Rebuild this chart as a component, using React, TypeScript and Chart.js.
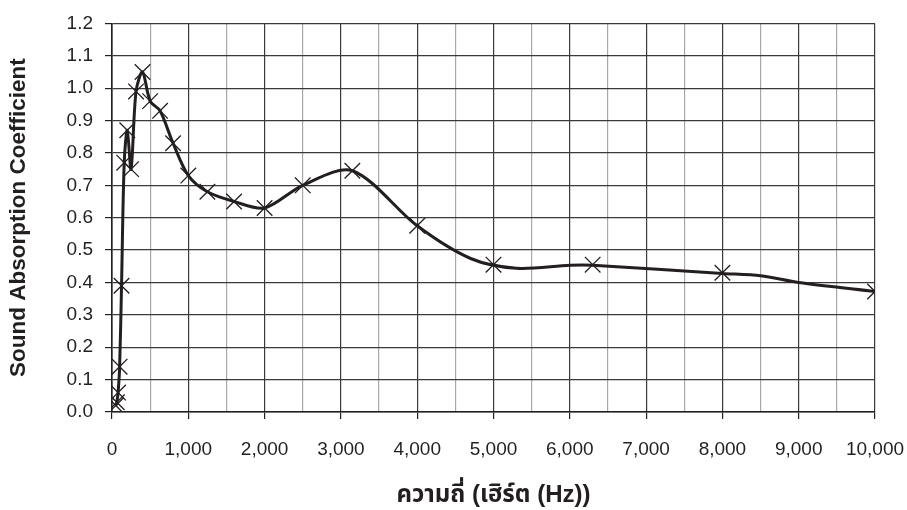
import React, { useEffect, useRef } from 'react';
import { Chart, registerables } from 'chart.js';

Chart.register(...registerables);

// Measured frequencies (Hz) with their X markers
const markerFreqs = [50, 63, 80, 100, 125, 160, 200, 250, 315, 400, 500, 630, 800, 1000, 1250, 1600, 2000, 2500, 3150, 4000, 5000, 6300, 8000, 10000];
const markerValues = [0.02, 0.03, 0.06, 0.14, 0.39, 0.77, 0.87, 0.75, 0.99, 1.05, 0.96, 0.93, 0.83, 0.73, 0.68, 0.65, 0.63, 0.70, 0.745, 0.575, 0.455, 0.455, 0.43, 0.372];

// Smoothed curve drawn through the measurements
const curveFreqs = [50, 63, 80, 100, 125, 160, 200, 250, 315, 400, 500, 630, 800, 1000, 1250, 1600, 2000, 2500, 3150, 4000, 4700, 5300, 6000, 6300, 8000, 8500, 9000, 10000];
const curveValues = [0.02, 0.03, 0.06, 0.14, 0.39, 0.77, 0.87, 0.75, 0.99, 1.05, 0.96, 0.93, 0.83, 0.73, 0.68, 0.65, 0.63, 0.70, 0.745, 0.575, 0.474, 0.444, 0.453, 0.453, 0.428, 0.421, 0.40, 0.372];

const yAxisTitle = 'Sound Absorption Coefficient';
const xAxisTitle = 'ความถี่ (เฮิร์ต (Hz))';

const INK = '#231f20';
const FONT = "'Liberation Sans', Arial, Helvetica, sans-serif";

export default function App() {
  const canvasRef = useRef<HTMLCanvasElement | null>(null);

  useEffect(() => {
    const canvas = canvasRef.current;
    if (!canvas) return;
    const chart = new Chart(canvas, {
      type: 'scatter',
      data: {
        datasets: [
          {
            label: 'curve',
            data: curveFreqs.map((f, i) => ({ x: f, y: curveValues[i] })),
            showLine: true,
            borderColor: INK,
            borderWidth: 3,
            pointRadius: 0,
            pointHoverRadius: 0,
            tension: 0.3,
            order: 2,
          },
          {
            label: 'measured',
            data: markerFreqs.map((f, i) => ({ x: f, y: markerValues[i] })),
            showLine: false,
            pointStyle: 'crossRot',
            pointRadius: 11,
            pointBorderColor: INK,
            pointBorderWidth: 1.3,
            pointBackgroundColor: INK,
            order: 1,
          },
        ],
      },
      options: {
        responsive: false,
        animation: false,
        devicePixelRatio: 1,
        layout: { padding: { top: 12, right: 32, left: 0, bottom: 0 } },
        plugins: { legend: { display: false }, tooltip: { enabled: false } },
        scales: {
          x: {
            type: 'linear',
            min: 0,
            max: 10000,
            afterFit: (scale: any) => {
              scale.height = 98;
              scale.paddingLeft = 0;
              scale.paddingRight = 0;
            },
            ticks: {
              stepSize: 500,
              autoSkip: false,
              maxRotation: 0,
              padding: 19,
              color: INK,
              font: { family: FONT, size: 19 },
              callback: (v: any) => (Number(v) % 1000 === 0 ? Number(v).toLocaleString('en-US') : ''),
            },
            grid: {
              color: (ctx: any) => (ctx.tick && ctx.tick.value % 1000 === 0 ? '#3a3a3a' : '#a8a8a8'),
              tickColor: (ctx: any) => (ctx.tick && ctx.tick.value % 1000 === 0 ? INK : 'rgba(0,0,0,0)'),
              lineWidth: 1.2,
              tickLength: 7,
            },
            border: { color: INK, width: 1.6 },
            title: {
              display: true,
              text: xAxisTitle,
              color: INK,
              font: { family: "'Liberation Sans', 'Noto Sans Thai', 'DejaVu Sans', sans-serif", size: 24, weight: 'bold' },
              padding: { top: 0, bottom: 0 },
            },
          },
          y: {
            min: 0,
            max: 1.2,
            afterFit: (scale: any) => { scale.width = 112; },
            ticks: {
              stepSize: 0.1,
              padding: 12,
              color: INK,
              font: { family: FONT, size: 19 },
              callback: (v: any) => Number(v).toFixed(1),
            },
            grid: {
              color: '#3a3a3a',
              tickColor: INK,
              lineWidth: 1.2,
              tickLength: 7,
            },
            border: { color: INK, width: 1.6 },
            title: {
              display: true,
              text: yAxisTitle,
              color: INK,
              font: { family: FONT, size: 22.5, weight: 'bold' },
              padding: { top: 5, bottom: 0 },
            },
          },
        },
      },
    });
    return () => chart.destroy();
  }, []);

  return (
    <div style={{ position: 'absolute', left: 0, top: 0, width: 907, height: 510, background: '#fff' }}>
      <canvas ref={canvasRef} width={907} height={510} />
    </div>
  );
}
